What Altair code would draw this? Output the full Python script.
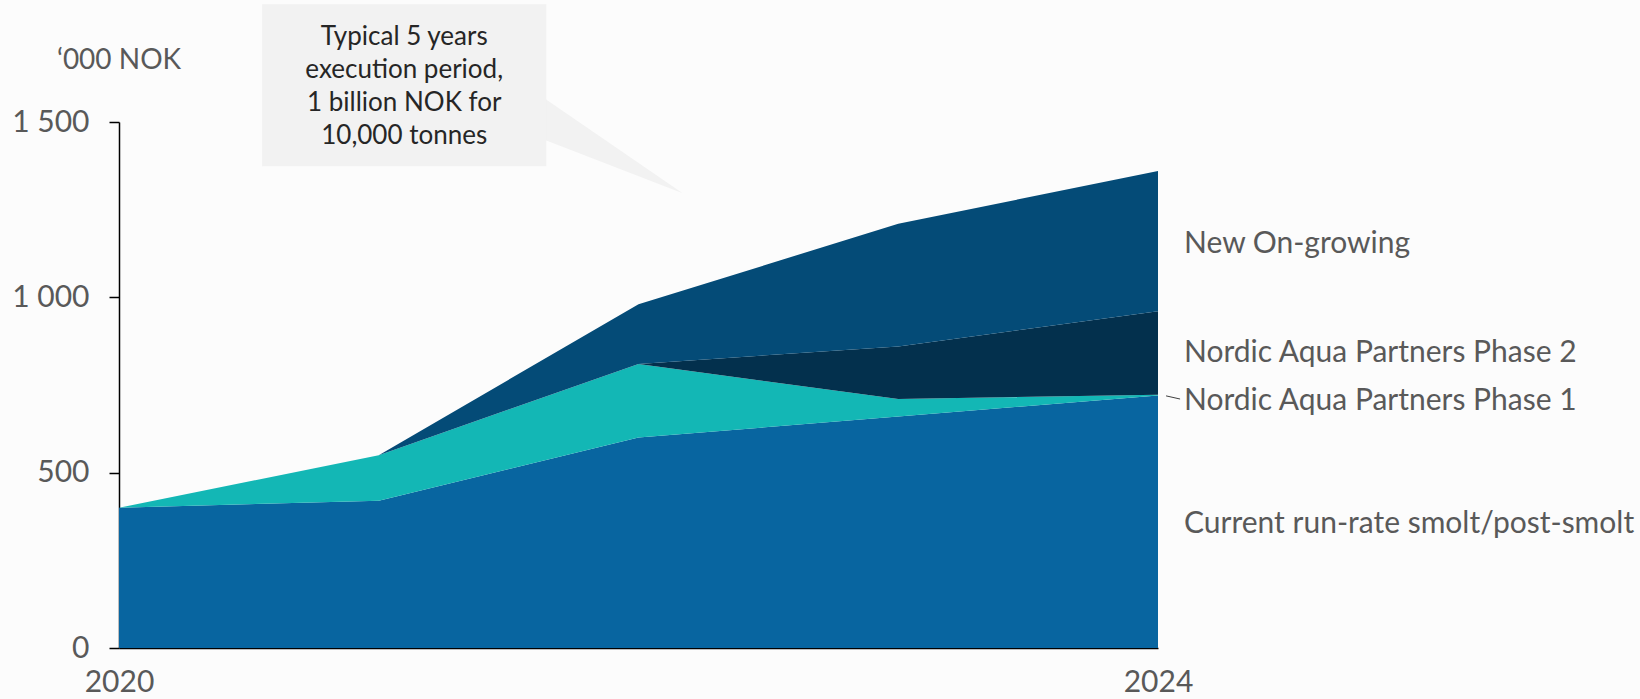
import altair as alt
import pandas as pd

# ---- data ----
years = [2020, 2021, 2022, 2023, 2024]
series = [
    "Current run-rate smolt/post-smolt",
    "Nordic Aqua Partners Phase 1",
    "Nordic Aqua Partners Phase 2",
    "New On-growing",
]
base_vals = [400, 420, 600, 660, 720]
phase1_vals = [0, 130, 210, 50, 2]
phase2_vals = [0, 0, 0, 150, 238]
new_vals = [0, 0, 170, 350, 400]
colors = ["#0865A0", "#13B7B5", "#03304D", "#044B77"]

y_ticks = [0, 500, 1000, 1500]
x_ticks = [2020, 2024]

# label anchors (data units)
label_y = [328, 679, 816, 1126]
unit_text = "\u2018000 NOK"
callout_lines = ["Typical 5 years", "execution period,", "1 billion NOK for", "10,000 tonnes"]

FONT = "Lato"
GREY = "#595959"

rows = []
for order, (name, vals) in enumerate(zip(series, [base_vals, phase1_vals, phase2_vals, new_vals])):
    for yr, v in zip(years, vals):
        rows.append({"year": yr, "series": name, "value": v, "order": order})
df = pd.DataFrame(rows)

x_scale = alt.Scale(domain=[2020, 2024], nice=False, zero=False)
y_scale = alt.Scale(domain=[0, 1500], nice=False)

x_axis = alt.Axis(values=x_ticks, format="d", ticks=False, grid=False, domainColor="black",
                  domainWidth=1.5, labelFontSize=30, labelColor=GREY, labelFont=FONT,
                  labelPadding=19, labelFlush=False, title=None)
y_axis = alt.Axis(values=y_ticks, labelExpr="replace(format(datum.value, ','), ',', ' ')",
                  grid=False, domainColor="black", domainWidth=1.5, tickColor="black",
                  tickWidth=1.5, tickSize=10, labelFontSize=30, labelColor=GREY, labelFont=FONT,
                  labelPadding=20, title=None)

area = alt.Chart(df).mark_area(opacity=1).encode(
    x=alt.X("year:Q", scale=x_scale, axis=x_axis),
    y=alt.Y("value:Q", stack="zero", scale=y_scale, axis=y_axis),
    color=alt.Color("series:N", scale=alt.Scale(domain=series, range=colors), legend=None),
    order=alt.Order("order:Q"),
)

# callout box and pointer
box_df = pd.DataFrame({"x": [2020.551], "x2": [2021.645], "y": [1836], "y2": [1374]})
box = alt.Chart(box_df).mark_rect(color="#F2F2F2").encode(
    x=alt.X("x:Q", scale=x_scale, axis=x_axis), x2="x2:Q",
    y=alt.Y("y:Q", scale=y_scale, axis=y_axis), y2="y2:Q",
)
ptr_df = pd.DataFrame({"x": [2021.64, 2022.17], "y": [1566, 1297], "y2": [1449, 1297]})
pointer = alt.Chart(ptr_df).mark_area(color="#F2F2F2", opacity=1).encode(
    x=alt.X("x:Q", scale=x_scale, axis=x_axis),
    y=alt.Y("y:Q", scale=y_scale, axis=y_axis), y2="y2:Q",
)
ctext_df = pd.DataFrame({"x": [2021.098], "y": [1742], "t": ["\n".join(callout_lines)]})
ctext = alt.Chart(ctext_df).mark_text(
    font=FONT, fontSize=26, color="#262626", align="center", baseline="middle",
    lineBreak="\n", lineHeight=33,
).encode(
    x=alt.X("x:Q", scale=x_scale, axis=x_axis),
    y=alt.Y("y:Q", scale=y_scale, axis=y_axis),
    text="t:N",
)

# series labels on the right
lab_df = pd.DataFrame({"x": [2024] * 4, "y": label_y, "t": series})
labels = alt.Chart(lab_df).mark_text(
    font=FONT, fontSize=30, color=GREY, align="left", baseline="alphabetic", dx=26,
).encode(
    x=alt.X("x:Q", scale=x_scale, axis=x_axis),
    y=alt.Y("y:Q", scale=y_scale, axis=y_axis),
    text="t:N",
)

lead_df = pd.DataFrame({"x": [2024.031], "x2": [2024.085], "y": [719], "y2": [710]})
leader = alt.Chart(lead_df).mark_rule(color="#404040", strokeWidth=1).encode(
    x=alt.X("x:Q", scale=x_scale, axis=x_axis), x2="x2:Q",
    y=alt.Y("y:Q", scale=y_scale, axis=y_axis), y2="y2:Q",
)

unit_df = pd.DataFrame({"x": [2020], "y": [1674], "t": [unit_text]})
unit = alt.Chart(unit_df).mark_text(
    font=FONT, fontSize=28, color=GREY, align="center", baseline="middle",
).encode(
    x=alt.X("x:Q", scale=x_scale, axis=x_axis),
    y=alt.Y("y:Q", scale=y_scale, axis=y_axis),
    text="t:N",
)

chart = alt.layer(pointer, box, ctext, area, labels, leader, unit).properties(
    width=1039,
    height=526,
    autosize=alt.AutoSizeParams(type="none"),
    padding={"left": 119, "top": 122, "right": 482, "bottom": 51},
    background="#FCFCFC",
).configure_view(stroke=None)

chart.save("out.html", embed_options={"renderer": "svg", "actions": False})
